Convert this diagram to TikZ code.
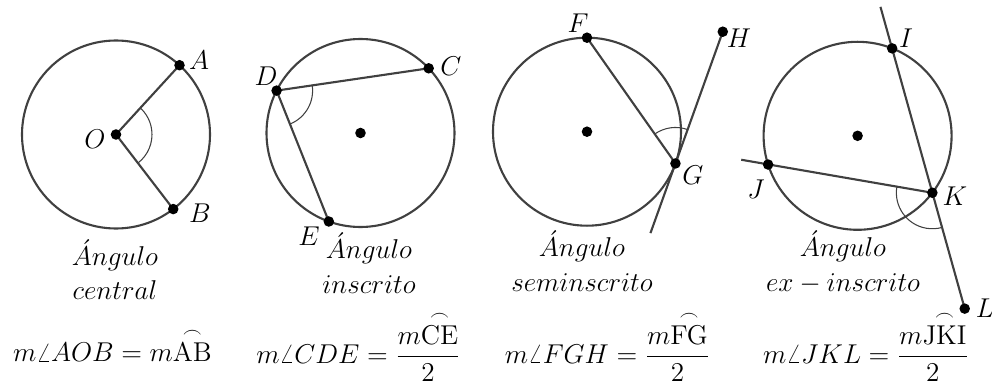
\documentclass[tikz,border=0pt]{standalone}
\usepackage{amsmath}
\usetikzlibrary{calc}

\begin{document}
\begin{tikzpicture}[x=0.02cm, y=0.02cm,
    circ/.style={draw=black!75, line width=1.2pt},
    seg/.style={draw=black!75, line width=1.2pt},
    ang/.style={draw=black!75, line width=0.6pt},
    lbl/.style={inner sep=0pt, scale=1.075, font=\fontsize{14.4}{18}\selectfont},
    txt/.style={align=center, anchor=base, scale=1.075, font=\fontsize{14.4}{18.47}\selectfont}]
  \useasboundingbox (0,0) rectangle (992,386);

  % central
  \coordinate (O) at (116,251.5);
  \coordinate (A) at ($(O)+(47.5:94)$);
  \coordinate (B) at ($(O)+(-52.5:94)$);
  \draw[circ] (O) circle[radius=94];
  \draw[seg] (A) -- (O) -- (B);
  \draw[ang] ($(O)+(-52.5:36)$) arc[start angle=-52.5, end angle=47.5, radius=36];

  % inscrito
  \coordinate (P) at (360.5,253);
  \coordinate (C) at ($(P)+(43.5:94)$);
  \coordinate (D) at ($(P)+(153.2:94)$);
  \coordinate (E) at ($(P)+(250.3:94)$);
  \draw[circ] (P) circle[radius=94];
  \draw[seg] (C) -- (D) -- (E);
  \draw[ang] ($(D)+(-68.3:36)$) arc[start angle=-68.3, end angle=8.3, radius=36];

  % seminscrito
  \coordinate (Q) at (587,254.3);
  \coordinate (F) at ($(Q)+(90:94)$);
  \coordinate (G) at ($(Q)+(-19.75:94)$);
  \coordinate (H) at ($(G)+(70.25:140)$);
  \coordinate (Gx) at ($(G)+(250.25:74)$);
  \draw[circ] (Q) circle[radius=94];
  \draw[seg] (F) -- (G);
  \draw[seg] (Gx) -- (H);
  \draw[ang] ($(G)+(70.25:36)$) arc[start angle=70.25, end angle=125.1, radius=36];

  % ex-inscrito
  \coordinate (R) at (857.6,250.2);
  \coordinate (I) at ($(R)+(68.4:94)$);
  \coordinate (K) at ($(R)+(-37.3:94)$);
  \coordinate (J) at ($(R)+(197.8:94)$);
  \coordinate (L) at ($(K)+(285.6:120.3)$);
  \coordinate (Ix) at ($(K)+(105.6:193)$);
  \coordinate (Jx) at ($(K)+(170.2:194)$);
  \draw[circ] (R) circle[radius=94];
  \draw[seg] (Ix) -- (L);
  \draw[seg] (Jx) -- (K);
  \draw[ang] ($(K)+(170.2:36)$) arc[start angle=170.2, end angle=285.6, radius=36];

  \foreach \p in {O,A,B,P,C,D,E,Q,F,G,H,R,I,K,J,L}
    \fill (\p) circle[radius=3pt];

  % letras
  \node[lbl] (lA) at (199,326) {$A$};
  \node[lbl] (lB) at (200,173) {$B$};
  \node[lbl] (lO) at (95,247) {$O$};
  \node[lbl] (lC) at (451,320) {$C$};
  \node[lbl] (lD) at (266,310) {$D$};
  \node[lbl] (lE) at (309,149.5) {$E$};
  \node[lbl] (lF) at (578,363) {$F$};
  \node[lbl] (lG) at (693,211) {$G$};
  \node[lbl] (lH) at (739,348) {$H$};
  \node[lbl] (lI) at (906,348) {$I$};
  \node[lbl] (lJ) at (756,197) {$J$};
  \node[lbl] (lK) at (955,190) {$K$};
  \node[lbl] (lL) at (985,78) {$L$};

  % nombres
  \node[txt] (tA) at (115,86) {$\acute{A}ngulo$\\$central$};
  \node[txt] (tB) at (369,93) {$\acute{A}ngulo$\\$inscrito$};
  \node[txt] (tC) at (582,94.3) {$\acute{A}ngulo$\\$seminscrito$};
  \node[txt] (tD) at (843,94.3) {$\acute{A}ngulo$\\$ex-inscrito$};

  % formulas
  \node[txt] (fA) at (112.5,24.3) {$m\angle AOB = m\overset{\frown}{\mathrm{AB}}$};
  \node[txt] (fB) at (358.5,23) {$\displaystyle m\angle CDE = \frac{m\overset{\frown}{\mathrm{CE}}}{2}$};
  \node[txt] (fC) at (607.5,23) {$\displaystyle m\angle FGH = \frac{m\overset{\frown}{\mathrm{FG}}}{2}$};
  \node[txt] (fD) at (866,23) {$\displaystyle m\angle JKL = \frac{m\overset{\frown}{\mathrm{JKI}}}{2}$};
\end{tikzpicture}
\end{document}
